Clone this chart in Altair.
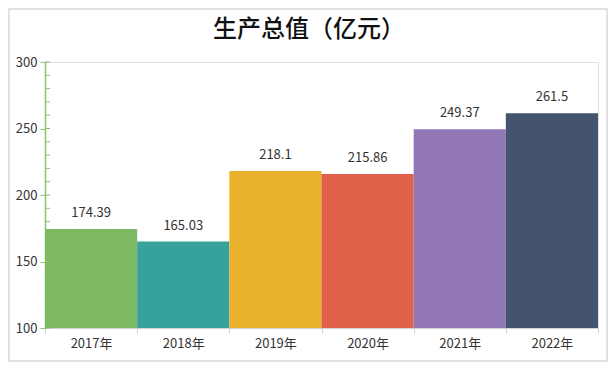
import altair as alt
import pandas as pd

title_text = "生产总值（亿元）"
years = ["2017年", "2018年", "2019年", "2020年", "2021年", "2022年"]
values = [174.39, 165.03, 218.1, 215.86, 249.37, 261.5]
colors = ["#7db963", "#36a29b", "#eab12c", "#e2614a", "#9378b8", "#43546c"]
y_ticks = [100, 150, 200, 250, 300]
minor_ticks = list(range(100, 301, 10))

df = pd.DataFrame({"year": years, "value": values, "color": colors})
ticks_df = pd.DataFrame({"t": minor_ticks})
title_df = pd.DataFrame({"title": [title_text]})

FONT = "Noto Sans CJK SC"

yscale = alt.Scale(domain=[100, 300], nice=False, zero=False)
xscale = alt.Scale(paddingInner=0, paddingOuter=0)

bars = alt.Chart(df).mark_bar().encode(
    x=alt.X("year:N", sort=years, scale=xscale, title=None,
            axis=alt.Axis(labelAngle=0, labelFontSize=13, labelColor="#333",
                          labelFont=FONT, domainColor="#d0d0d0", tickColor="#d0d0d0",
                          tickSize=5, tickBand="extent", labelPadding=4)),
    y=alt.Y("value:Q", scale=yscale, title=None,
            axis=alt.Axis(values=y_ticks, labelFontSize=13, labelColor="#333",
                          labelFont=FONT, domainColor="#8cc26e", tickColor="#8cc26e",
                          tickSize=5, grid=False, labelPadding=3, domainWidth=1.5)),
    y2=alt.datum(100),
    color=alt.Color("color:N", scale=None),
)

labels = alt.Chart(df).mark_text(baseline="bottom", dy=-9, fontSize=13,
                                 color="#333", font=FONT).encode(
    x=alt.X("year:N", sort=years, scale=xscale),
    y=alt.Y("value:Q", scale=yscale),
    text=alt.Text("value:Q"),
)

minor = alt.Chart(ticks_df).mark_rule(color="#8cc26e", strokeWidth=1).encode(
    y=alt.Y("t:Q", scale=yscale),
    x=alt.value(0),
    x2=alt.value(5),
)

border = alt.Chart(title_df).mark_rect(fill=None, stroke="#d8d8d8", strokeWidth=1.5,
                                       clip=False).encode(
    x=alt.value(-36), x2=alt.value(562), y=alt.value(-53), y2=alt.value(299),
)

title = alt.Chart(title_df).mark_text(fontSize=24, font=FONT, fontWeight=500,
                                      color="#111", baseline="middle",
                                      align="center").encode(
    x=alt.value(264), y=alt.value(-32), text="title:N",
)

chart = alt.layer(border, bars, minor, labels, title).properties(
    width=553, height=266,
    autosize=alt.AutoSizeParams(type="none"),
    padding={"left": 37, "top": 54, "right": 10, "bottom": 34},
).configure_view(stroke=None).configure(background="white")

chart.save("out.html", embed_options={"renderer": "svg", "actions": False})
